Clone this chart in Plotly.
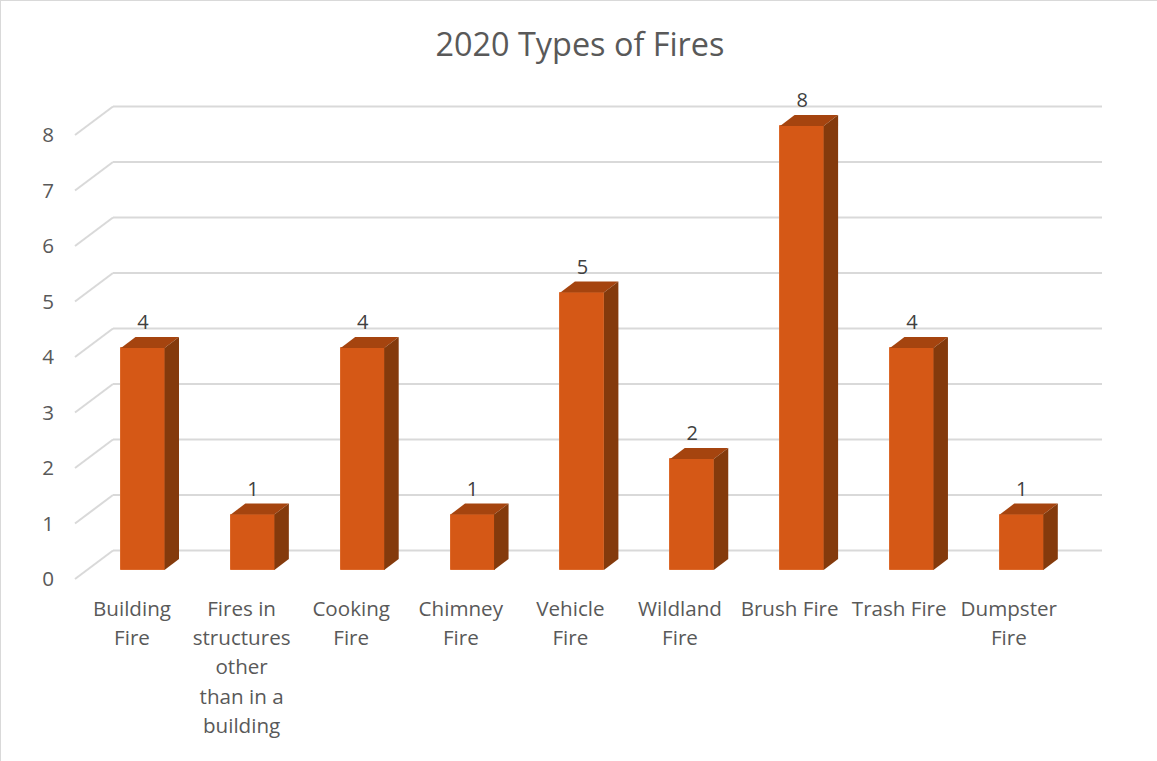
import plotly.graph_objects as go

categories = ["Building<br>Fire", "Fires in<br>structures<br>other<br>than in a<br>building", "Cooking<br>Fire",
              "Chimney<br>Fire", "Vehicle<br>Fire", "Wildland<br>Fire", "Brush Fire", "Trash Fire", "Dumpster<br>Fire"]
values = [4, 1, 4, 1, 5, 2, 8, 4, 1]
y_ticks = [0, 1, 2, 3, 4, 5, 6, 7, 8]

FONT = "Open Sans"
FRONT, TOP, SIDE = "#D55816", "#A5440F", "#843A0C"
GRID = "#D9D9D9"

# pseudo-3D geometry, in axis units
PX_X, PX_Y = 109.85, 55.5
bar_off = 11 / PX_X
bar_w = 44 / PX_X
depth_x = 14.5 / PX_X
depth_y = 11 / PX_Y
wall_back_y = 19.5 / PX_Y
wall_front_y = -9 / PX_Y
wall_x0 = (75 - 132) / PX_X
wall_x1 = (113 - 132) / PX_X
wall_x2 = (1102 - 132) / PX_X
label_dy = 24 / PX_Y
tick_dy = -9 / PX_Y
tick_step = 109.6 / PX_X

xs = list(range(len(values)))
centers = [x + bar_off for x in xs]

fig = go.Figure()
fig.add_bar(x=centers, y=values, width=bar_w, marker=dict(color=FRONT, line=dict(color="#DB682A", width=1)),
            hoverinfo="skip", showlegend=False)

for c, v in zip(centers, values):
    l, r = c - bar_w / 2, c + bar_w / 2 - 0.5 / PX_X
    fig.add_scatter(x=[l, r, r + depth_x, l + depth_x, l], y=[v, v, v + depth_y, v + depth_y, v],
                    fill="toself", fillcolor=TOP, mode="lines", line=dict(width=0, color=TOP),
                    hoverinfo="skip", showlegend=False)
    fig.add_scatter(x=[r, r + depth_x, r + depth_x, r, r], y=[0, depth_y, v + depth_y, v, 0],
                    fill="toself", fillcolor=SIDE, mode="lines", line=dict(width=0, color=SIDE),
                    hoverinfo="skip", showlegend=False)

fig.add_scatter(x=centers, y=[v + label_dy for v in values], text=[str(v) for v in values], mode="text",
                textposition="middle center", textfont=dict(family=FONT, size=20, color="#404040"),
                hoverinfo="skip", showlegend=False)

shapes = []
for t in y_ticks:
    line = dict(color=GRID, width=2)
    shapes.append(dict(type="line", xref="x", yref="y", layer="below", x0=wall_x0, x1=wall_x1,
                       y0=t + wall_front_y, y1=t + wall_back_y, line=line))
    shapes.append(dict(type="line", xref="x", yref="y", layer="below", x0=wall_x1, x1=wall_x2,
                       y0=t + wall_back_y, y1=t + wall_back_y, line=line))
# outer chart border
for x0, y0, x1, y1 in [(0, 0, 1157, 0), (0, 0, 0, 761)]:
    shapes.append(dict(type="line", xref="paper", yref="paper", layer="below",
                       x0=(x0 - 60) / 1050, x1=(x1 - 60) / 1050,
                       y0=(590 - y0) / 510, y1=(590 - y1) / 510, line=dict(color="#D9D9D9", width=2)))

span = '<span style="font-size:20.6px">'
fig.update_layout(
    width=1157, height=761,
    margin=dict(l=60, r=47, t=80, b=171),
    paper_bgcolor="white", plot_bgcolor="rgba(0,0,0,0)",
    title=dict(text="2020 Types of Fires", x=580 / 1157, xanchor="center", y=1 - 44.5 / 761, yanchor="middle",
               font=dict(family=FONT, size=32.4, color="#595959")),
    xaxis=dict(range=[(60 - 132) / PX_X, (1110 - 132) / PX_X], tickvals=[x * tick_step for x in xs],
               ticktext=[span + c.replace("<br>", "</span><br>" + span) + "</span>" for c in categories],
               tickfont=dict(family=FONT, size=22.6, color="#595959"), showgrid=False, zeroline=False,
               showline=False, ticks="", ticklabelstandoff=2),
    yaxis=dict(range=[(570 - 590) / PX_Y, (570 - 80) / PX_Y], tickvals=[t + tick_dy for t in y_ticks],
               ticktext=[str(t) for t in y_ticks], tickfont=dict(family=FONT, size=20.6, color="#595959"),
               showgrid=False, zeroline=False, showline=False, ticks="", ticklabelstandoff=5),
    shapes=shapes, bargap=0,
)
fig.write_html("out.html", config=dict(displayModeBar=False), post_script="document.body.style.margin='0';")
